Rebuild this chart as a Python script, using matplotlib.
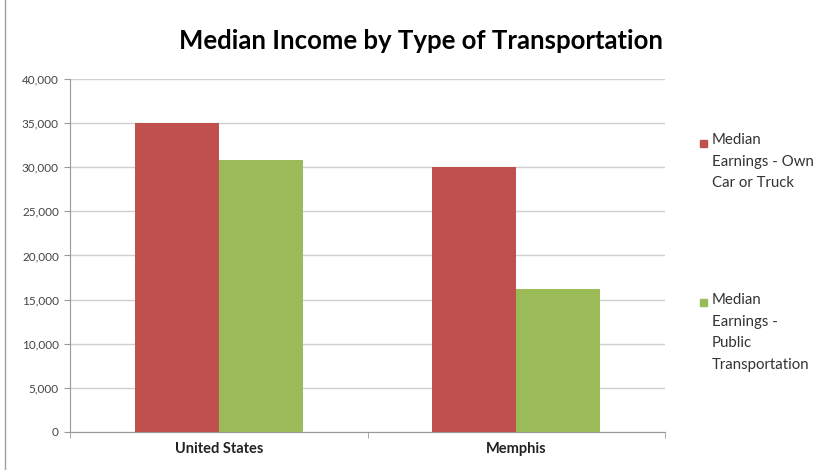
import matplotlib.pyplot as plt
import numpy as np
from matplotlib.patches import Rectangle
from matplotlib.ticker import FuncFormatter

# data
categories = ["United States", "Memphis"]
series_names = ["Median\nEarnings - Own\nCar or Truck",
                "Median\nEarnings -\nPublic\nTransportation"]
own_car = [35000, 30000]
public_transport = [30800, 16200]
colors = ["#C0504D", "#9BBB59"]

plt.rcParams['font.family'] = ['Lato', 'DejaVu Sans']

fig = plt.figure(figsize=(8.22, 4.70), dpi=100)
ax = fig.add_axes([0.0852, 0.081, 0.7238, 0.751])

x = np.arange(len(categories))
width = 0.283
ax.bar(x - width / 2, own_car, width, color=colors[0], zorder=3)
ax.bar(x + width / 2, public_transport, width, color=colors[1], zorder=3)

ax.set_xlim(-0.5, len(categories) - 0.5)
ax.set_ylim(0, 40000)
ax.set_yticks(np.arange(0, 40001, 5000))
ax.yaxis.set_major_formatter(FuncFormatter(lambda v, p: f"{int(v):,}"))
ax.set_xticks(x)
ax.set_xticklabels(categories, fontweight='bold', fontsize=10.5)
ax.set_xticks([-0.5, 0.5, 1.5], minor=True)
ax.tick_params(axis='x', which='major', length=0, pad=7, colors='#222222')
ax.tick_params(axis='x', which='minor', length=4, color='#999999')
ax.tick_params(axis='y', length=4, color='#999999', labelsize=8.5,
               labelcolor='#444444', pad=4)

ax.grid(axis='y', color='#d0d0d0', linewidth=1, zorder=0)
for s in ['top', 'right']:
    ax.spines[s].set_visible(False)
for s in ['left', 'bottom']:
    ax.spines[s].set_color('#999999')

fig.text(0.512, 0.912, "Median Income by Type of Transportation",
         ha='center', va='center', fontsize=18.5, fontweight='bold')

# manual legend, entries aligned to their first line
leg_tops = [0.716, 0.376]
for name, color, top in zip(series_names, colors, leg_tops):
    fig.add_artist(Rectangle((0.851, top - 0.028), 0.0085, 0.0149,
                             transform=fig.transFigure, color=color))
    fig.text(0.866, top, name, ha='left', va='top', fontsize=10.8,
             color='#333333', linespacing=1.68)

# outer chart border
fig.add_artist(Rectangle((0.006, -0.01), 1.2, 1.2, transform=fig.transFigure,
                         fill=False, edgecolor='#a0a0a0', linewidth=1))

fig.savefig("out.png", dpi=100)
